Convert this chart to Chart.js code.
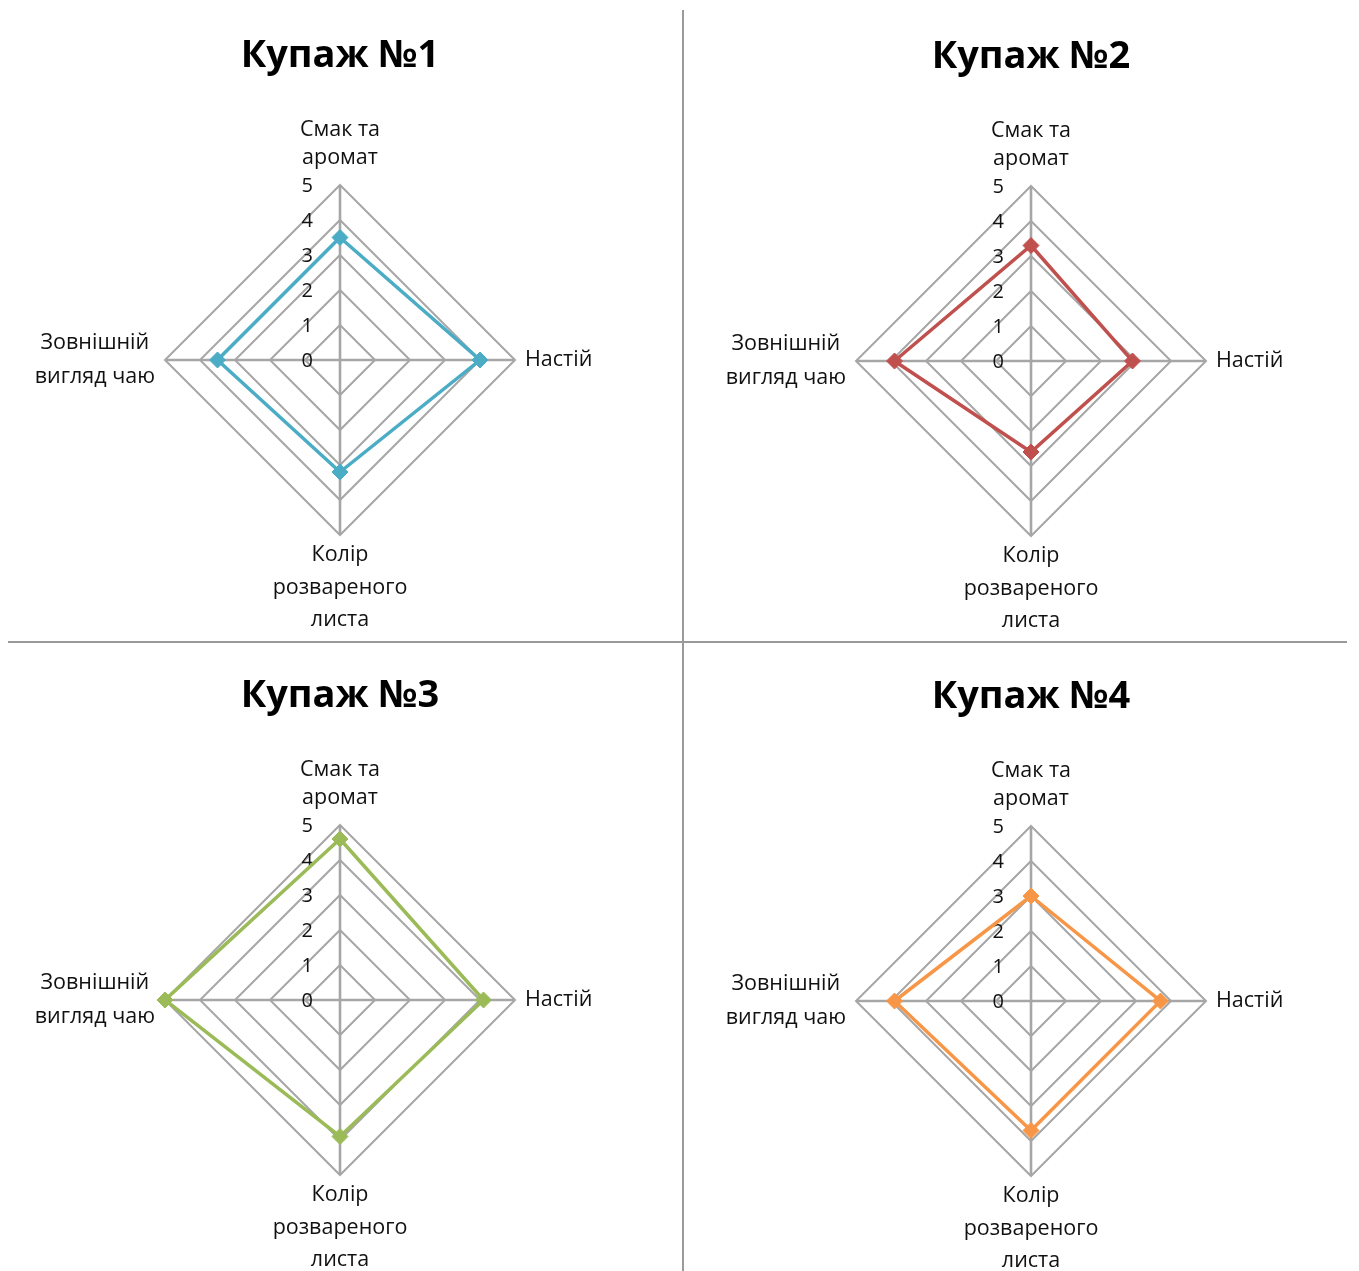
<!DOCTYPE html>
<html lang="uk">
<head>
<meta charset="utf-8">
<title>Купажі чаю — органолептична оцінка</title>
<script src="https://cdn.jsdelivr.net/npm/chart.js@4.4.1/dist/chart.umd.min.js"></script>
<style>
  html, body { margin: 0; padding: 0; background: #ffffff; }
  #page { position: relative; width: 1359px; height: 1271px; overflow: hidden; background: #ffffff; }
  canvas { position: absolute; }
  .rule { position: absolute; background: #9a9a9a; }
</style>
</head>
<body>
<div id="page">
  <canvas id="c1" width="683" height="641" style="left:0;top:0"></canvas>
  <canvas id="c2" width="676" height="641" style="left:683px;top:0"></canvas>
  <canvas id="c3" width="683" height="630" style="left:0;top:641px"></canvas>
  <canvas id="c4" width="676" height="630" style="left:683px;top:641px"></canvas>
  <div class="rule" style="left:682px;top:10px;width:2px;height:1261px"></div>
  <div class="rule" style="left:8px;top:641px;width:1339px;height:2px"></div>
</div>
<script>
// Criteria (axes), listed clockwise from the top
const criteria = [
  ['Смак та', 'аромат'],
  ['Настій'],
  ['Колір', 'розвареного', 'листа'],
  ['Зовнішній', 'вигляд чаю']
];

// Scores per blend, same order as the criteria
const blend1 = [3.5, 4.0, 3.2, 3.5];
const blend2 = [3.3, 2.9, 2.6, 3.9];
const blend3 = [4.6, 4.1, 3.9, 5.0];
const blend4 = [3.0, 3.7, 3.7, 3.9];

const blendTitles = ['Купаж №1', 'Купаж №2', 'Купаж №3', 'Купаж №4'];
const tickValues = [0, 1, 2, 3, 4, 5];
const tickLabels = ['0', '1', '2', '3', '4', '5'];

const seriesColors = ['#4bacc6', '#c0504d', '#9bbb59', '#f79646'];
const TEXT = '#111111';
const FONT = '"Open Sans", "Noto Sans", "DejaVu Sans", sans-serif';

Chart.defaults.font.family = FONT;

// Draws the value scale beside the vertical axis and the criterion names
const axisText = {
  id: 'axisText',
  beforeDatasetsDraw(chart) {
    const s = chart.scales.r;
    const ctx = chart.ctx;
    ctx.save();
    ctx.fillStyle = TEXT;

    ctx.font = '20px ' + FONT;
    ctx.textAlign = 'right';
    ctx.textBaseline = 'middle';
    tickValues.forEach((v, i) => {
      const d = s.getDistanceFromCenterForValue(v);
      ctx.fillText(tickLabels[i], s.xCenter - 27, s.yCenter - d + 1);
    });

    ctx.font = '21.5px ' + FONT;
    ctx.textBaseline = 'middle';
    chart.data.labels.forEach((lines, i) => {
      const p = s.getPointPosition(i, s.drawingArea);
      const dx = p.x - s.xCenter;
      const dy = p.y - s.yCenter;
      if (dy < -1) {            // top
        ctx.textAlign = 'center';
        const lh = 28;
        lines.forEach((t, k) => {
          ctx.fillText(t, p.x, p.y - 27 - (lines.length - 1 - k) * lh);
        });
      } else if (dy > 1) {      // bottom
        ctx.textAlign = 'center';
        const lh = 32.5;
        lines.forEach((t, k) => ctx.fillText(t, p.x, p.y + 20 + k * lh));
      } else if (dx > 0) {      // right
        ctx.textAlign = 'left';
        const lh = 34;
        const y0 = p.y - (lines.length - 1) * lh / 2;
        lines.forEach((t, k) => ctx.fillText(t, p.x + 10, y0 + k * lh));
      } else {                  // left
        ctx.textAlign = 'center';
        const lh = 34;
        const w = Math.max(...lines.map(t => ctx.measureText(t).width));
        const cx = p.x - 10 - w / 2;
        const y0 = p.y - (lines.length - 1) * lh / 2;
        lines.forEach((t, k) => ctx.fillText(t, cx, y0 + k * lh));
      }
    });
    ctx.restore();
  }
};

function makeRadar(id, title, values, color, pad) {
  return new Chart(document.getElementById(id), {
    type: 'radar',
    data: {
      labels: criteria,
      datasets: [{
        label: title,
        data: values,
        borderColor: color,
        backgroundColor: color,
        borderWidth: 3.5,
        fill: false,
        pointStyle: 'rectRot',
        pointRadius: 8,
        pointHoverRadius: 8,
        pointBackgroundColor: color,
        pointBorderColor: color,
        pointBorderWidth: 1
      }]
    },
    options: {
      responsive: false,
      animation: false,
      events: [],
      layout: { padding: pad },
      plugins: {
        legend: { display: false },
        tooltip: { enabled: false },
        title: {
          display: true,
          text: title,
          color: '#000000',
          font: { size: 38, weight: 'bold', family: FONT, lineHeight: 1.2 },
          padding: { top: 0, bottom: 107 }
        }
      },
      scales: {
        r: {
          min: 0,
          max: 5,
          ticks: { display: false, stepSize: 1 },
          pointLabels: { display: false },
          grid: { color: '#a6a6a6', lineWidth: 2 },
          angleLines: { color: '#a6a6a6', lineWidth: 2.6 }
        }
      }
    },
    plugins: [axisText]
  });
}

makeRadar('c1', blendTitles[0], blend1, seriesColors[0], { left: 165, right: 168, top: 33, bottom: 105 });
makeRadar('c2', blendTitles[1], blend2, seriesColors[1], { left: 173, right: 153, top: 34, bottom: 104 });
makeRadar('c3', blendTitles[2], blend3, seriesColors[2], { left: 165, right: 168, top: 32, bottom: 95 });
makeRadar('c4', blendTitles[3], blend4, seriesColors[3], { left: 173, right: 153, top: 33, bottom: 94 });
</script>
</body>
</html>
